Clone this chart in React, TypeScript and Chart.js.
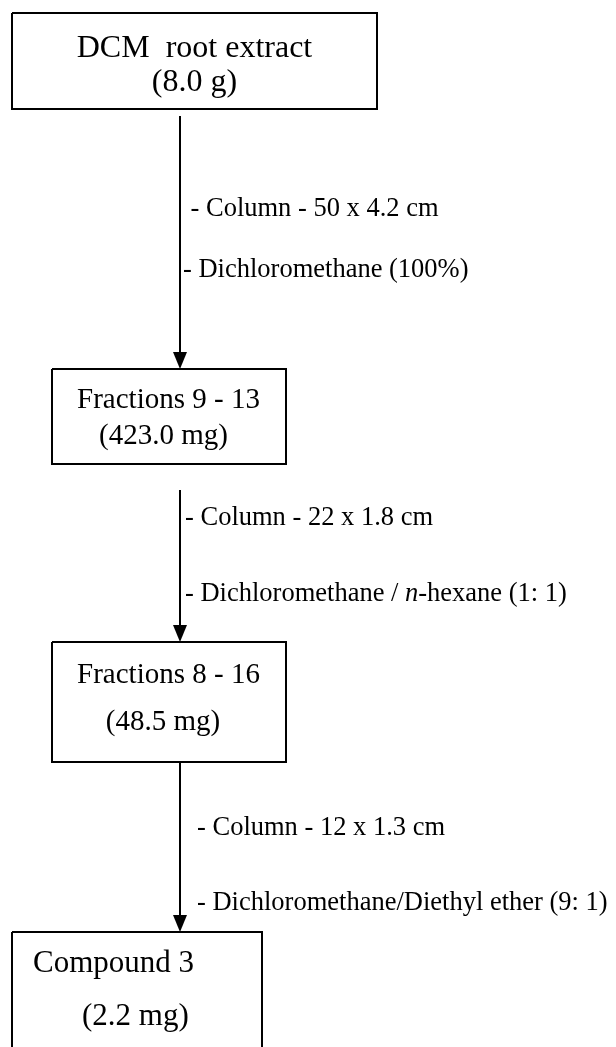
import React, { useEffect, useRef } from "react";
import { Chart, registerables } from "chart.js";

Chart.register(...registerables);

// Boxes of the flow scheme (chart units = page pixels, y grows downwards)
const boxTitles = ["DCM  root extract", "Fractions 9 - 13", "Fractions 8 - 16", "Compound 3"];
const boxAmounts = ["(8.0 g)", "(423.0 mg)", "(48.5 mg)", "(2.2 mg)"];
const boxLeft = [12, 52, 52, 12];
const boxRight = [377, 286, 286, 262];
const boxTop = [13, 369, 642, 932];
const boxBottom = [109, 464, 762, 1060];
const titleX = [194.5, 168.5, 168.5, 33];
const amountX = [194.5, 163.5, 163, 82];
const boxAlign = ["center", "center", "center", "left"];
const titleY = [57, 408, 683, 972];
const amountY = [91, 444, 730, 1025];
const boxFontSize = [32, 29, 29, 31];

// Arrows between boxes
const arrowX = [180, 180, 180];
const arrowFrom = [116, 490, 762];
const arrowTo = [369, 642, 932];

// Step annotations
const stepColumn = ["- Column - 50 x 4.2 cm", "- Column - 22 x 1.8 cm", "- Column - 12 x 1.3 cm"];
const stepSolvent = [
  [{ t: "- Dichloromethane (100%)", i: false }],
  [
    { t: "- Dichloromethane / ", i: false },
    { t: "n", i: true },
    { t: "-hexane (1: 1)", i: false },
  ],
  [{ t: "- Dichloromethane/Diethyl ether (9: 1)", i: false }],
];
const columnX = [190.5, 185, 197];
const columnY = [216, 525, 835];
const solventX = [183, 185, 197];
const solventY = [277, 601, 910];
const labelFontSize = 26.5;

const FAMILY = '"Liberation Serif", "Times New Roman", serif';

const flowPlugin = {
  id: "flowText",
  afterDatasetsDraw(chart: any) {
    const ctx = chart.ctx as CanvasRenderingContext2D;
    const xs = chart.scales.x;
    const ys = chart.scales.y;
    const px = (v: number) => xs.getPixelForValue(v);
    const py = (v: number) => ys.getPixelForValue(v);
    ctx.save();
    ctx.fillStyle = "#000";
    ctx.textBaseline = "alphabetic";

    // arrow heads
    arrowX.forEach((x, k) => {
      const tipY = py(arrowTo[k]);
      const cx = px(x);
      ctx.beginPath();
      ctx.moveTo(cx, tipY);
      ctx.lineTo(cx - 7, tipY - 17);
      ctx.lineTo(cx + 7, tipY - 17);
      ctx.closePath();
      ctx.fill();
    });

    // box texts
    boxTitles.forEach((title, k) => {
      ctx.font = `${boxFontSize[k]}px ${FAMILY}`;
      ctx.textAlign = boxAlign[k] as CanvasTextAlign;
      ctx.fillText(title, px(titleX[k]), py(titleY[k]));
      ctx.fillText(boxAmounts[k], px(amountX[k]), py(amountY[k]));
    });

    // step labels
    ctx.textAlign = "left";
    stepColumn.forEach((txt, k) => {
      ctx.font = `${labelFontSize}px ${FAMILY}`;
      ctx.fillText(txt, px(columnX[k]), py(columnY[k]));
      let x = px(solventX[k]);
      stepSolvent[k].forEach((seg) => {
        ctx.font = `${seg.i ? "italic " : ""}${labelFontSize}px ${FAMILY}`;
        ctx.fillText(seg.t, x, py(solventY[k]));
        x += ctx.measureText(seg.t).width;
      });
    });
    ctx.restore();
  },
};

export default function App() {
  const ref = useRef<HTMLCanvasElement>(null);
  useEffect(() => {
    document.body.style.margin = "0";
    const lineStyle = {
      showLine: true,
      borderColor: "#000",
      borderWidth: 2,
      pointRadius: 0,
      pointHoverRadius: 0,
      fill: false,
      tension: 0,
    };
    const boxSets = boxTitles.map((t, k) => ({
      label: t,
      data: [
        { x: boxLeft[k], y: boxTop[k] },
        { x: boxRight[k], y: boxTop[k] },
        { x: boxRight[k], y: boxBottom[k] },
        { x: boxLeft[k], y: boxBottom[k] },
        { x: boxLeft[k], y: boxTop[k] },
      ],
      ...lineStyle,
    }));
    const shaftSets = arrowX.map((x, k) => ({
      label: "arrow " + k,
      data: [
        { x, y: arrowFrom[k] },
        { x, y: arrowTo[k] - 14 },
      ],
      ...lineStyle,
    }));
    const chart = new Chart(ref.current as HTMLCanvasElement, {
      type: "scatter",
      data: { datasets: [...boxSets, ...shaftSets] as any },
      options: {
        animation: false,
        responsive: false,
        events: [],
        layout: { padding: 0 },
        plugins: { legend: { display: false }, tooltip: { enabled: false } },
        scales: {
          x: { type: "linear", min: 0, max: 616, display: false },
          y: { type: "linear", min: 0, max: 1047, reverse: true, display: false },
        },
      },
      plugins: [flowPlugin],
    });
    return () => chart.destroy();
  }, []);
  return (
    <div style={{ width: 616, height: 1047, background: "#fff" }}>
      <canvas ref={ref} width={616} height={1047} style={{ display: "block" }} />
    </div>
  );
}
